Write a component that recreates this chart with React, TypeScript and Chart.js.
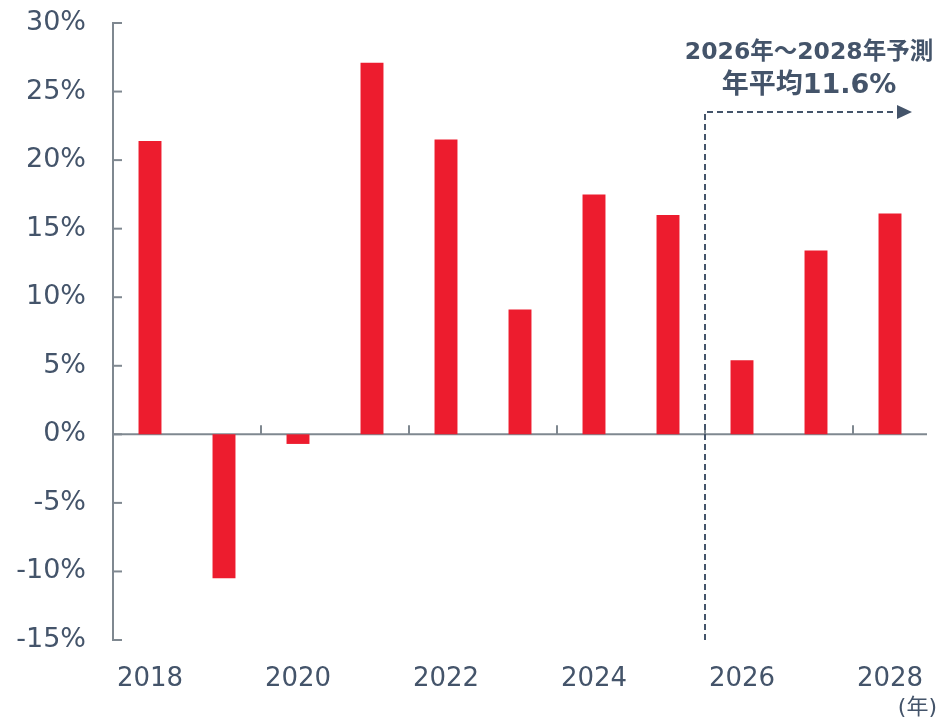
import React, { useEffect, useRef } from "react";
import { Chart, registerables } from "chart.js";

Chart.register(...registerables);

const years = ["2018", "2019", "2020", "2021", "2022", "2023", "2024", "2025", "2026", "2027", "2028"];
const growth = [21.4, -10.5, -0.7, 27.1, 21.5, 9.1, 17.5, 16.0, 5.4, 13.4, 16.1];
const yTicks = [-15, -10, -5, 0, 5, 10, 15, 20, 25, 30];
const noteLine1 = "2026年～2028年予測";
const noteLine2 = "年平均11.6%";
const unitLabel = "(年)";

const TEXT = "#44546A";
const AXIS = "#7F8890";
const RED = "#ED1C2E";
const FONT = "'DejaVu Sans', 'Noto Sans CJK JP', sans-serif";

const decorPlugin = {
  id: "decor",
  beforeDatasetsDraw(chart: any) {
    const { ctx, chartArea, scales } = chart;
    const y = scales.y;
    const y0 = y.getPixelForValue(0);
    const w = (chartArea.right - chartArea.left) / years.length;
    ctx.save();
    ctx.strokeStyle = AXIS;
    ctx.lineWidth = 2;
    ctx.beginPath();
    ctx.moveTo(chartArea.left, y0);
    ctx.lineTo(chartArea.right, y0);
    ctx.stroke();
    yTicks.forEach((v) => {
      const py = y.getPixelForValue(v);
      ctx.beginPath();
      ctx.moveTo(chartArea.left, py);
      ctx.lineTo(chartArea.left + 9, py);
      ctx.stroke();
    });
    for (let i = 2; i < years.length; i += 2) {
      const px = chartArea.left + i * w;
      ctx.beginPath();
      ctx.moveTo(px, y0);
      ctx.lineTo(px, y0 - 9);
      ctx.stroke();
    }
    ctx.restore();
  },
  afterDraw(chart: any) {
    const { ctx, chartArea, scales } = chart;
    const x = scales.x;
    const xb = (x.getPixelForValue(7) + x.getPixelForValue(8)) / 2;
    const yTop = 112;
    const xEnd = 897;
    ctx.save();
    ctx.strokeStyle = TEXT;
    ctx.fillStyle = TEXT;
    ctx.lineWidth = 2;
    ctx.setLineDash([6, 4]);
    ctx.beginPath();
    ctx.moveTo(xb, chartArea.bottom);
    ctx.lineTo(xb, yTop);
    ctx.lineTo(xEnd, yTop);
    ctx.stroke();
    ctx.setLineDash([]);
    ctx.beginPath();
    ctx.moveTo(xEnd, yTop - 7);
    ctx.lineTo(xEnd + 15, yTop);
    ctx.lineTo(xEnd, yTop + 7);
    ctx.closePath();
    ctx.fill();
    ctx.textAlign = "center";
    ctx.textBaseline = "alphabetic";
    ctx.font = "bold 23.5px " + FONT;
    ctx.fillText(noteLine1, 809, 59);
    ctx.font = "bold 27px " + FONT;
    ctx.fillText(noteLine2, 809, 93);
    ctx.font = "22px " + FONT;
    ctx.textAlign = "right";
    ctx.fillText(unitLabel, 937, 714);
    ctx.restore();
  },
};

export default function App() {
  const ref = useRef<HTMLCanvasElement | null>(null);
  useEffect(() => {
    if (!ref.current) return;
    const chart = new Chart(ref.current, {
      type: "bar",
      data: {
        labels: years,
        datasets: [
          {
            data: growth,
            backgroundColor: RED,
            barPercentage: 0.31,
            categoryPercentage: 1,
          },
        ],
      },
      options: {
        animation: false,
        responsive: false,
        maintainAspectRatio: false,
        plugins: { legend: { display: false }, tooltip: { enabled: false } },
        layout: { padding: { left: 0, right: 14, top: 23, bottom: 0 } },
        scales: {
          x: {
            offset: true,
            grid: { display: false, drawTicks: false },
            border: { display: false },
            ticks: {
              autoSkip: false,
              maxRotation: 0,
              padding: 24,
              color: TEXT,
              font: { family: FONT, size: 26 },
              callback: (_v: any, i: number) => (i % 2 === 0 ? years[i] : ""),
            },
            afterFit: (s: any) => {
              s.height = 719 - 640;
              s.paddingLeft = 0;
              s.paddingRight = 0;
            },
          },
          y: {
            min: -15,
            max: 30,
            grid: { display: false, drawTicks: false },
            border: { display: true, color: AXIS, width: 2 },
            ticks: {
              stepSize: 5,
              padding: 27,
              color: TEXT,
              font: { family: FONT, size: 27 },
              callback: (v: any) => v + "%",
            },
            afterFit: (s: any) => {
              s.width = 113;
              s.paddingTop = 0;
              s.paddingBottom = 0;
            },
          },
        },
      },
      plugins: [decorPlugin],
    });
    return () => chart.destroy();
  }, []);
  return (
    <div style={{ position: "absolute", left: 0, top: 0, width: 941, height: 719, background: "#fff" }}>
      <canvas ref={ref} width={941} height={719} />
    </div>
  );
}
